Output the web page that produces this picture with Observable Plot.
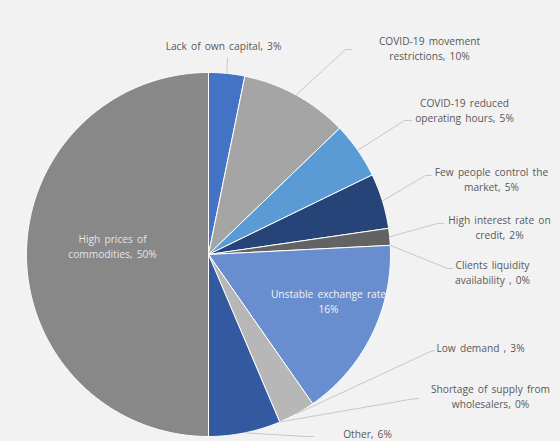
<!DOCTYPE html>
<html>
<head>
<meta charset="utf-8">
<script src="https://cdn.jsdelivr.net/npm/d3@7"></script>
<script src="https://cdn.jsdelivr.net/npm/@observablehq/plot@0.6"></script>
<style>
  html, body { margin: 0; padding: 0; background: #F2F2F2; overflow: hidden; }
  #chart { width: 560px; height: 441px; }
  #chart svg text { word-spacing: 1.5px; }
</style>
</head>
<body>
<div id="chart"></div>
<script>
// ---- data ----
const categories = [
  "Lack of own capital",
  "COVID-19 movement restrictions",
  "COVID-19 reduced operating hours",
  "Few people control the market",
  "High interest rate on credit",
  "Clients liquidity availability",
  "Unstable exchange rate",
  "Low demand",
  "Shortage of supply from wholesalers",
  "Other",
  "High prices of commodities"
];
const shares = [3.2, 9.6, 5.0, 4.9, 1.5, 0, 16.1, 3.3, 0, 6.4, 50];
const labelTexts = [
  "Lack of own capital, 3%",
  "COVID-19 movement\nrestrictions, 10%",
  "COVID-19 reduced\noperating hours, 5%",
  "Few people control the\nmarket, 5%",
  "High interest rate on\ncredit, 2%",
  "Clients liquidity\navailability , 0%",
  "Unstable exchange rate\n16%",
  "Low demand , 3%",
  "Shortage of supply from\nwholesalers, 0%",
  "Other, 6%",
  "High prices of\ncommodities, 50%"
];

// ---- styles / layout (kept apart from the data) ----
const sliceColors = ["#4472C4", "#A5A5A5", "#5B9BD5", "#264478", "#636363", "#997300",
                     "#698ED0", "#B7B7B7", "#FFCD33", "#335AA1", "#888888"];
const CX = 208, CY = 254, R = 182;
const toUnit = (px, py) => [(px - CX) / R, (CY - py) / R];
// label centre (pixels), leader elbow and leader end (pixels) ; inside labels have no leader
const labelLayout = [
  {c: [223, 45],  elbow: [227, 57],  end: [227, 57],  inside: false},
  {c: [429, 47.5], elbow: [345, 49], end: [351, 49],  inside: false},
  {c: [464, 109.5], elbow: [404, 120], end: [411, 120], inside: false},
  {c: [491, 178.5], elbow: [425, 175], end: [431, 175], inside: false},
  {c: [499, 226.5], elbow: [437, 223], end: [443, 223], inside: false},
  {c: [492, 271.5], elbow: [447, 268], end: [452, 268], inside: false},
  {c: [328, 300.5], inside: true, color: "#F2F2F2"},
  {c: [480, 347],  elbow: [430, 351], end: [434, 350], inside: false},
  {c: [490, 395.5], elbow: [409, 399], end: [418, 398], inside: false},
  {c: [367, 433],  elbow: [306, 436], end: [313, 436], inside: false},
  {c: [112, 245.5], inside: true, color: "#E4E4E4"}
];

// ---- geometry from data ----
const total = d3.sum(shares);
const slicePts = [];
const mids = [];
let acc = 0;
categories.forEach((name, i) => {
  const a0 = acc / total * 2 * Math.PI;
  acc += shares[i];
  const a1 = acc / total * 2 * Math.PI;
  mids.push((a0 + a1) / 2);
  if (shares[i] <= 0) return;
  slicePts.push({name, x: 0, y: 0});
  const n = Math.max(2, Math.ceil((a1 - a0) / (Math.PI / 360)));
  for (let k = 0; k <= n; k++) {
    const a = a0 + (a1 - a0) * k / n;
    slicePts.push({name, x: Math.sin(a), y: Math.cos(a)});
  }
  slicePts.push({name, x: 0, y: 0});
});

const leaderPts = [];
const outsideLabels = [];
const insideLabels = [];
categories.forEach((name, i) => {
  const L = labelLayout[i];
  const [ux, uy] = toUnit(...L.c);
  if (L.inside) {
    insideLabels.push({text: labelTexts[i], x: ux, y: uy, color: L.color});
    return;
  }
  outsideLabels.push({text: labelTexts[i], x: ux, y: uy});
  const m = mids[i];
  leaderPts.push({name, x: Math.sin(m), y: Math.cos(m)});
  const e = toUnit(...L.elbow), f = toUnit(...L.end);
  leaderPts.push({name, x: e[0], y: e[1]});
  leaderPts.push({name, x: f[0], y: f[1]});
});

const chart = Plot.plot({
  width: 560,
  height: 441,
  margin: 0,
  x: {domain: [-1, 1], range: [CX - R, CX + R], axis: null},
  y: {domain: [-1, 1], range: [CY + R, CY - R], axis: null},
  color: {domain: categories, range: sliceColors},
  style: {background: "#F2F2F2", fontFamily: "'Open Sans', sans-serif", overflow: "hidden"},
  marks: [
    Plot.line(slicePts, {x: "x", y: "y", z: "name", fill: "name", stroke: "white", strokeWidth: 1, curve: "linear"}),
    Plot.line(leaderPts, {x: "x", y: "y", z: "name", stroke: "#C8C8C8", strokeWidth: 1, curve: "linear"}),
    Plot.text(outsideLabels, {x: "x", y: "y", text: "text", fill: "#595959", fontSize: 10.2, lineHeight: 1.45, textAnchor: "middle"}),
    Plot.text(insideLabels, {x: "x", y: "y", text: "text", fill: d => d.color, fontSize: 10.2, lineHeight: 1.45, textAnchor: "middle"})
  ]
});
document.getElementById("chart").appendChild(chart);
</script>
</body>
</html>
